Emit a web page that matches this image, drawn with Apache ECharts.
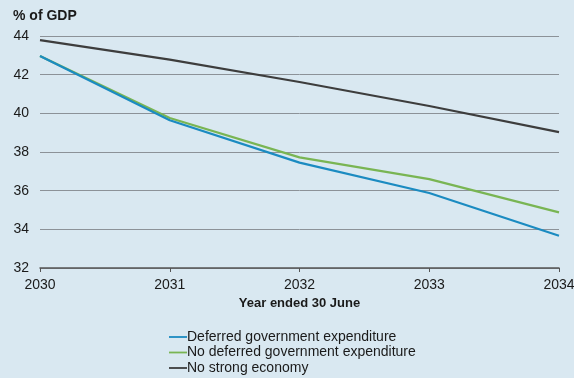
<!DOCTYPE html>
<html>
<head>
<meta charset="utf-8">
<script src="https://cdn.jsdelivr.net/npm/echarts@6/dist/echarts.min.js"></script>
<style>
html,body{margin:0;padding:0;background:#d9e8f1;}
#chart{width:574px;height:378px;}
</style>
</head>
<body>
<div id="chart"></div>
<script>
// Projected debt, % of GDP, years ended 30 June
const years = ['2030', '2031', '2032', '2033', '2034'];
const deferredExpenditure = [42.97, 39.64, 37.45, 35.88, 33.67];
const noDeferredExpenditure = [42.97, 39.76, 37.72, 36.6, 34.88];
const noStrongEconomy = [43.79, 42.78, 41.62, 40.38, 39.03];
const seriesNames = ['Deferred government expenditure', 'No deferred government expenditure', 'No strong economy'];
const colors = ['#1b8bc1', '#79b553', '#3d3d3d'];

const font = 'Liberation Sans, Arial, sans-serif';
const chart = echarts.init(document.getElementById('chart'));
const values = [deferredExpenditure, noDeferredExpenditure, noStrongEconomy];

// one legend row per series, stacked under the axis title
const legends = seriesNames.map((n, i) => ({
  left: 169, top: 330 + i * 15.5, padding: 0,
  itemWidth: 18, itemHeight: 12, icon: 'path://M0,5 L20,5 L20,7 L0,7 Z',
  textStyle: { fontSize: 14, color: '#1a1a1a', padding: [0, 0, 0, -5] },
  data: [n]
}));

chart.setOption({
  backgroundColor: '#d9e8f1',
  animation: false,
  textStyle: { fontFamily: font },
  title: {
    text: '% of GDP', left: 8, top: 4,
    textStyle: { fontSize: 14, fontWeight: 'bold', color: '#1a1a1a', fontFamily: font }
  },
  grid: { left: 40, right: 15, top: 36, bottom: 110, containLabel: false, outerBoundsMode: 'none' },
  xAxis: {
    type: 'category', data: years, boundaryGap: false,
    name: 'Year ended 30 June', nameLocation: 'middle', nameGap: 28,
    nameTextStyle: { fontSize: 13, fontWeight: 'bold', color: '#1a1a1a' },
    axisLine: { lineStyle: { color: '#555', width: 1.5 } },
    axisTick: { show: true, length: 4, lineStyle: { color: '#555' } },
    axisLabel: { fontSize: 14, color: '#1a1a1a', margin: 10 }
  },
  yAxis: {
    type: 'value', min: 32, max: 44, interval: 2,
    axisLine: { show: false }, axisTick: { show: false },
    axisLabel: { fontSize: 14, color: '#1a1a1a', margin: 11 },
    splitLine: { lineStyle: { color: '#8c9298', width: 1 } }
  },
  legend: legends,
  series: seriesNames.map((n, i) => ({
    name: n, type: 'line', data: values[i], symbol: 'none',
    lineStyle: { color: colors[i], width: 2.2 }, itemStyle: { color: colors[i] },
    z: i === 0 ? 3 : 2
  }))
});
</script>
</body>
</html>
